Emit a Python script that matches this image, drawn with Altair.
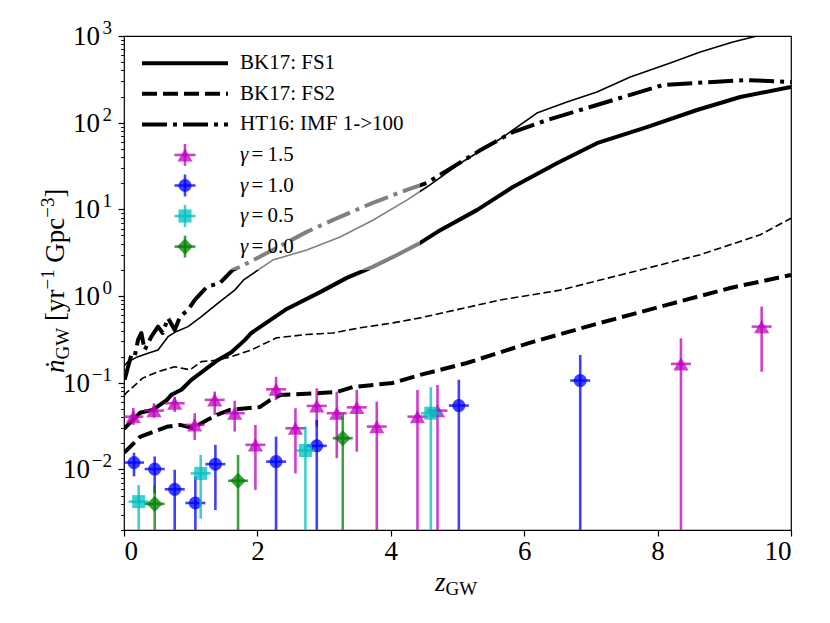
import altair as alt
import pandas as pd

# ---------------- data ----------------
# BK17: FS1 (thick solid)
fs1_z = [0.0, 0.24, 0.43, 0.64, 0.71, 0.86, 1.01, 1.21, 1.41, 1.61, 1.81, 1.91, 2.44, 2.94, 3.34,
         3.73, 4.1, 4.44, 4.7, 5.29, 5.83, 6.49, 7.09, 7.84, 8.59, 9.24, 10.0]
fs1_n = [0.0293, 0.045, 0.0486, 0.063, 0.0725, 0.083, 0.108, 0.141, 0.183, 0.225, 0.31, 0.375, 0.71,
         1.11, 1.62, 2.17, 3.0, 4.1, 5.5, 9.8, 18.1, 34, 58, 89, 140, 198, 258]
# thin solid companion curve
fs1t_z = [0.0, 0.06, 0.21, 0.36, 0.51, 0.66, 0.78, 0.96, 1.16, 1.41, 1.66, 1.80, 2.23, 2.74, 3.24,
          3.73, 4.24, 4.54, 5.04, 5.68, 6.19, 6.64, 7.09, 7.59, 8.19, 8.64, 9.13, 9.49, 10.0]
fs1t_n = [0.156, 0.175, 0.20, 0.219, 0.239, 0.34, 0.388, 0.444, 0.578, 0.826, 1.17, 1.55, 2.6, 3.4,
          4.8, 7.5, 12.8, 18.1, 34, 68, 129, 173, 226, 337, 489, 654, 853, 1000, 1350]
# BK17: FS2 (thick dashed)
fs2_z = [0.0, 0.24, 0.43, 0.64, 0.84, 1.03, 1.24, 1.39, 1.59, 2.04, 2.19, 2.34, 2.94, 3.19, 3.43,
         4.03, 4.44, 5.14, 6.13, 7.14, 8.14, 9.09, 10.0]
fs2_n = [0.0155, 0.0237, 0.027, 0.031, 0.0326, 0.030, 0.037, 0.0425, 0.0486, 0.0526, 0.063, 0.072,
         0.076, 0.078, 0.089, 0.0995, 0.123, 0.169, 0.296, 0.49, 0.79, 1.24, 1.75]
# thin dashed companion curve
fs2t_z = [0.0, 0.03, 0.28, 0.51, 0.76, 0.99, 1.16, 1.41, 1.61, 1.91, 2.29, 2.74, 3.13, 3.54, 4.03,
          4.44, 5.64, 6.54, 7.74, 8.64, 9.54, 10.0]
fs2t_n = [0.0705, 0.0757, 0.113, 0.134, 0.153, 0.141, 0.175, 0.183, 0.20, 0.239, 0.33, 0.36, 0.375,
          0.43, 0.49, 0.56, 0.90, 1.17, 2.0, 3.0, 5.1, 7.9]
# HT16: IMF 1->100 (thick dash-dot)
ht_z = [0.01, 0.06, 0.11, 0.16, 0.21, 0.26, 0.31, 0.41, 0.51, 0.58, 0.66, 0.76, 0.84, 0.96, 1.06,
        1.16, 1.24, 1.44, 1.63, 1.74, 2.23, 2.74, 3.24, 3.73, 4.24, 4.54, 4.84, 5.34, 5.83, 6.34,
        7.09, 8.08, 8.83, 9.34, 10.0]
ht_n = [0.108, 0.152, 0.209, 0.20, 0.312, 0.375, 0.239, 0.34, 0.444, 0.375, 0.558, 0.406, 0.578,
        0.692, 0.90, 1.09, 1.27, 1.42, 2.0, 2.17, 3.4, 5.5, 8.2, 11.9, 16.8, 20.2, 28, 48, 78, 107,
        160, 272, 295, 310, 294]

# measured points (lo = 0 means the bar runs off the bottom of the plot)
g15_z = [0.14, 0.45, 0.76, 1.06, 1.36, 1.66, 1.97, 2.28, 2.57, 2.89, 3.19, 3.49, 3.79, 4.40, 4.70, 8.35, 9.56]
g15_n = [0.0406, 0.0477, 0.058, 0.0326, 0.0634, 0.0445, 0.0192, 0.084, 0.0298, 0.054, 0.0445, 0.052,
         0.0312, 0.0406, 0.0477, 0.165, 0.444]
g15_lo = [0.0326, 0.0394, 0.046, 0.0219, 0.0426, 0.0273, 0.0058, 0.063, 0.0090, 0.0312, 0.0135, 0.016,
          0, 0, 0, 0, 0.134]
g15_hi = [0.0512, 0.058, 0.069, 0.0445, 0.079, 0.062, 0.0326, 0.117, 0.0508, 0.086, 0.079, 0.083,
          0.0605, 0.0826, 0.094, 0.326, 0.755]

g10_z = [0.15, 0.46, 0.76, 1.07, 1.37, 2.28, 2.89, 5.02, 6.84]
g10_n = [0.0120, 0.0101, 0.0059, 0.0041, 0.0115, 0.0123, 0.0187, 0.0545, 0.106]
g10_lo = [0.0083, 0.0053, 0, 0, 0.0034, 0, 0, 0, 0]
g10_hi = [0.0156, 0.0141, 0.0099, 0.0083, 0.0192, 0.0239, 0.0372, 0.108, 0.209]

g05_z = [0.22, 1.15, 2.72, 4.60]
g05_n = [0.00425, 0.0090, 0.0165, 0.0445]
g05_lo = [0, 0.0027, 0, 0]
g05_hi = [0.0066, 0.0147, 0.0312, 0.0887]

g00_z = [0.46, 1.71, 3.28]
g00_n = [0.0040, 0.0074, 0.0229]
g00_lo = [0, 0, 0]
g00_hi = [0.0066, 0.0147, 0.0445]

XERR = 0.15

line_labels = ["BK17: FS1", "BK17: FS2", "HT16: IMF 1->100"]
gamma_labels = ["1.5", "1.0", "0.5", "0.0"]
y_exponents = [-2, -1, 0, 1, 2, 3]
x_ticks = [0, 2, 4, 6, 8, 10]

# ---------------- styling ----------------
FONT = "'Liberation Serif', 'Times New Roman', Times, 'DejaVu Serif', serif"
MAG, BLU, CYA, GRN = "#bf00bf", "#0000ff", "#00bfbf", "#008000"
ALPHA = 0.75
DASH = [15, 6]
DASH_THIN = [7.5, 3.5]
DASHDOT = [25, 6, 4, 6]

xs = alt.Scale(domain=[0, 10], nice=False, zero=False)
ys = alt.Scale(type="log", domain=[0.002, 1000], nice=False)

yticks = []
for e in range(-3, 3):
    for m in range(1, 10):
        v = round(m * 10.0 ** e, 10)
        if 0.002 <= v <= 1000:
            yticks.append(v)
yticks.append(1000.0)

major = "abs(log(datum.value)/LN10 - round(log(datum.value)/LN10)) < 1e-6"

x_axis = alt.Axis(values=x_ticks, format="d", labelFont=FONT, labelFontSize=27,
                  labelColor="black", tickColor="black", tickWidth=1.2, tickSize=6,
                  labelPadding=2, domain=False, grid=False, title=None)
y_axis = alt.Axis(values=yticks, labels=False, tickColor="black",
                  tickSize={"condition": {"test": major, "value": 6}, "value": 3.5},
                  tickWidth={"condition": {"test": major, "value": 1.2}, "value": 0.9},
                  domain=False, grid=False, title=None)


def X(f):
    return alt.X(f, type="quantitative", scale=xs, axis=x_axis)


def Y(f):
    return alt.Y(f, type="quantitative", scale=ys, axis=y_axis)


def curve(z, n, w, dash=None):
    kw = dict(color="black", strokeWidth=w, clip=True, strokeCap="butt", strokeJoin="round")
    if dash:
        kw["strokeDash"] = dash
    return alt.Chart(pd.DataFrame({"z": z, "n": n})).mark_line(**kw).encode(x=X("z"), y=Y("n"))


def group(z, n, lo, hi, color, shape, size):
    df = pd.DataFrame({"z": z, "n": n, "lo": lo, "hi": hi})
    base = alt.Chart(df).transform_calculate(
        lo_c="max(datum.lo, 1e-4)", zl=f"datum.z - {XERR}", zr=f"datum.z + {XERR}")
    rk = dict(color=color, strokeWidth=2.6, opacity=ALPHA, clip=True)
    v = base.mark_rule(**rk).encode(x=X("z"), y=Y("lo_c"), y2="hi:Q")
    h = base.mark_rule(**rk).encode(x=X("zl"), x2="zr:Q", y=Y("n"))
    p = base.mark_point(filled=True, shape=shape, size=size, color=color,
                        opacity=ALPHA).encode(x=X("z"), y=Y("n"))
    return [v, h, p]


one = pd.DataFrame({"k": [0]})

layers = [
    curve(fs1t_z, fs1t_n, 1.6),
    curve(fs2t_z, fs2t_n, 1.6, DASH_THIN),
    curve(ht_z, ht_n, 4, DASHDOT),
    curve(fs1_z, fs1_n, 4),
    curve(fs2_z, fs2_n, 4, DASH),
]
layers += group(g15_z, g15_n, g15_lo, g15_hi, MAG, "triangle-up", 230)
layers += group(g10_z, g10_n, g10_lo, g10_hi, BLU, "circle", 170)
layers += group(g05_z, g05_n, g05_lo, g05_hi, CYA, "square", 170)
layers += group(g00_z, g00_n, g00_lo, g00_hi, GRN, "diamond", 260)

# ---------------- legend (semi-transparent box) ----------------
layers.append(alt.Chart(one).mark_rect(color="white", opacity=0.5, cornerRadius=5).encode(
    x=alt.value(8), x2=alt.value(296), y=alt.value(9), y2=alt.value(234)))

ROW0, STEP = 27.3, 30.55
TX = 116
dashes = [None, DASH, DASHDOT]
for i, lab in enumerate(line_labels):
    ry = ROW0 + STEP * i
    kw = dict(color="black", strokeWidth=4, strokeCap="butt")
    if dashes[i]:
        kw["strokeDash"] = dashes[i]
    layers.append(alt.Chart(one).mark_rule(**kw).encode(
        x=alt.value(18), x2=alt.value(104), y=alt.value(ry)))
    layers.append(alt.Chart(one).mark_text(text=lab, align="left", baseline="middle", font=FONT,
                                           fontSize=21, color="black").encode(
        x=alt.value(TX), y=alt.value(ry)))

styles = [(MAG, "triangle-up", 230), (BLU, "circle", 170), (CYA, "square", 170), (GRN, "diamond", 260)]
MX = 61
for j, lab in enumerate(gamma_labels):
    ry = ROW0 + STEP * (3 + j)
    col, shp, sz = styles[j]
    rk = dict(color=col, strokeWidth=2.6, opacity=ALPHA)
    layers.append(alt.Chart(one).mark_rule(**rk).encode(
        x=alt.value(MX), y=alt.value(ry - 11), y2=alt.value(ry + 11)))
    layers.append(alt.Chart(one).mark_rule(**rk).encode(
        x=alt.value(MX - 10.5), x2=alt.value(MX + 10.5), y=alt.value(ry)))
    layers.append(alt.Chart(one).mark_point(filled=True, shape=shp, size=sz, color=col,
                                            opacity=ALPHA).encode(x=alt.value(MX), y=alt.value(ry)))
    layers.append(alt.Chart(one).mark_text(text="γ", align="left", baseline="middle", font=FONT,
                                           fontSize=21, fontStyle="italic", color="black").encode(
        x=alt.value(TX), y=alt.value(ry)))
    layers.append(alt.Chart(one).mark_text(text="=\u2009" + lab, align="left", baseline="middle",
                                           font=FONT, fontSize=21, color="black").encode(
        x=alt.value(TX + 11.5), y=alt.value(ry)))

# ---------------- y tick labels 10^k ----------------
tl = alt.Chart(pd.DataFrame({"e": y_exponents})).transform_calculate(
    v="pow(10, datum.e)",
    sup="datum.e < 0 ? '\u2212' + abs(datum.e) : '' + datum.e")
layers.append(tl.transform_filter("datum.e >= 0").mark_text(
    text="10", align="right", baseline="middle", font=FONT, fontSize=27, dy=1, color="black").encode(
    x=alt.value(-24), y=Y("v")))
layers.append(tl.transform_filter("datum.e < 0").mark_text(
    text="10", align="right", baseline="middle", font=FONT, fontSize=27, dy=1, color="black").encode(
    x=alt.value(-34), y=Y("v")))
layers.append(tl.mark_text(align="right", baseline="middle", font=FONT, fontSize=19, dy=-8,
                           color="black").encode(x=alt.value(-12), y=Y("v"), text="sup:N"))

# ---------------- axis titles ----------------
def t(txt, x, y, size, italic=False, angle=None):
    kw = dict(text=txt, align="left", baseline="alphabetic", font=FONT, fontSize=size, color="black")
    if italic:
        kw["fontStyle"] = "italic"
    if angle is not None:
        kw["angle"] = angle
    return alt.Chart(one).mark_text(**kw).encode(x=alt.value(x), y=alt.value(y))

B = -60
S = -5
layers += [
    t("ṅ", B, 342 + S, 27, italic=True, angle=270),
    t("GW", B + 5, 328.5 + S, 19, angle=270),
    t("[yr", B, 290 + S, 27, angle=270),
    t("\u22121", B - 10, 258.5 + S, 19, angle=270),
    t("Gpc", B, 231.8 + S, 27, angle=270),
    t("\u22123", B - 10, 186.8 + S, 19, angle=270),
    t("]", B, 166.8 + S, 27, angle=270),
    t("z", 311, 555, 27, italic=True),
    t("GW", 321.5, 559, 19),
]

chart = alt.layer(*layers).properties(
    width=667, height=494,
    autosize=alt.AutoSizeParams(type="none"),
    padding={"left": 116, "top": 28, "right": 30, "bottom": 75},
).configure_view(stroke="black", strokeWidth=1.2)

chart.save("out.html", embed_options={"renderer": "svg", "actions": False})
